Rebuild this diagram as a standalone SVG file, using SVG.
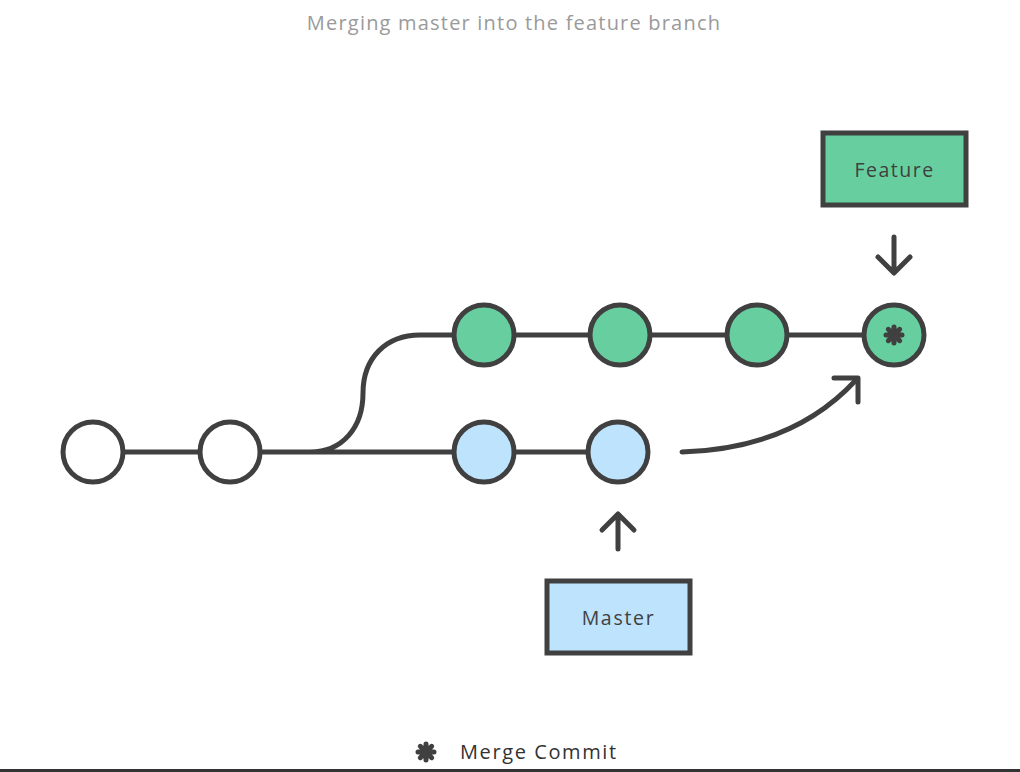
<svg xmlns="http://www.w3.org/2000/svg" width="1020" height="772" viewBox="0 0 1020 772">
<defs>
<style>
.c{stroke:#404040;stroke-width:5;}
.w{fill:#fff}
.g{fill:#67cf9f}
.b{fill:#bde3fd}
.ln{fill:none;stroke:#404040;stroke-width:5;stroke-linecap:round;stroke-linejoin:round}
.t{font-family:"Open Sans","Liberation Sans",sans-serif;}
</style>
<g id="star">
<path d="M0,-8V8M-8,0H8M-5.7,-5.7L5.7,5.7M-5.7,5.7L5.7,-5.7" stroke="#404040" stroke-width="5" stroke-linecap="round"/>
<circle r="5" fill="#404040"/>
</g>
</defs>
<rect width="1020" height="772" fill="#fff"/>
<text class="t" x="514" y="30" text-anchor="middle" font-size="20" fill="#9a9a9a" letter-spacing="1.2">Merging master into the feature branch</text>
<g id="connectors">
<path class="ln" d="M124 452H198M261 452H452M285 452H310C342 452 363 428 363 393C363 358 386 335 420 335H452M515 335H588M651 335H725M788 335H862M515 452H586"/>
<path class="ln" d="M682 452C750 450 810 430 856 380"/>
<path class="ln" d="M834 378H858V402"/>
<path class="ln" d="M894 237V272M878 257L894 273L910 257"/>
<path class="ln" d="M618 549V514M602 530L618 514L634 530"/>
</g>
<g id="c1"><circle class="c w" cx="93" cy="452" r="30"/></g>
<g id="c2"><circle class="c w" cx="230" cy="452" r="30"/></g>
<g id="g1"><circle class="c g" cx="484" cy="335" r="30"/></g>
<g id="g2"><circle class="c g" cx="620" cy="335" r="30"/></g>
<g id="g3"><circle class="c g" cx="757" cy="335" r="30"/></g>
<g id="merge"><circle class="c g" cx="894" cy="335" r="30"/><use href="#star" x="894" y="335"/></g>
<g id="b1"><circle class="c b" cx="484" cy="452" r="30"/></g>
<g id="b2"><circle class="c b" cx="618" cy="452" r="30"/></g>
<g id="feature"><rect class="c g" x="823" y="133" width="143" height="72"/><text class="t" x="894.5" y="177" text-anchor="middle" font-size="19.5" fill="#404040" letter-spacing="1.5">Feature</text></g>
<g id="master"><rect class="c b" x="547" y="581" width="143" height="72"/><text class="t" x="618.5" y="625" text-anchor="middle" font-size="19.5" fill="#404040" letter-spacing="1.7">Master</text></g>
<g id="legend"><use href="#star" x="426" y="752"/><text class="t" x="460" y="759" font-size="20" fill="#333" letter-spacing="1.6">Merge Commit</text></g>
<rect x="0" y="769" width="1020" height="3" fill="#333"/>
</svg>
